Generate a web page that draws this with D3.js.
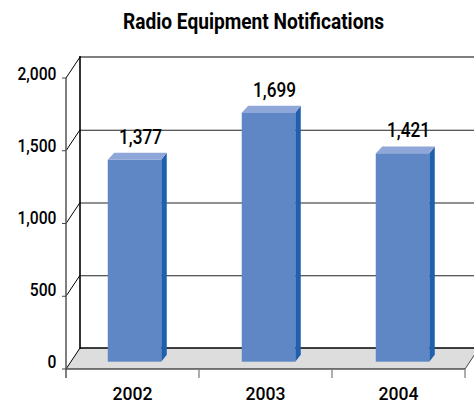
<!DOCTYPE html>
<html><head><meta charset="utf-8">
<script src="https://cdn.jsdelivr.net/npm/d3@7"></script>
<style>html,body{margin:0;padding:0;background:#fff}svg{display:block}text{font-family:Roboto,sans-serif;fill:#000}</style>
</head><body><svg id="c" width="474" height="404"></svg>
<script>
const title = "Radio Equipment Notifications";
const categories = ["2002","2003","2004"];
const values = [1377,1699,1421];
const labels = ["1,377","1,699","1,421"];
const yTicks = [0,500,1000,1500,2000];
const yTickLabels = ["0","500","1,000","1,500","2,000"];

const svg = d3.select("#c");
const DX = 14, DY = -21;
const x = d3.scaleBand().domain(categories).range([66,465]);
const barX = d3.scaleBand().domain(categories).range([67.5,469.5]);
const y = d3.scaleLinear().domain([0,2000]).range([369,78]);
const barY = d3.scaleLinear().domain([0,2000]).range([361.7,68.5]);
const labelY = d3.scaleLinear().domain([0,2000]).range([367.7,80]);
const right = x.range()[1];

// floor
svg.append("path").attr("d",`M${66},${y(0)}L${66+DX},${y(0)+DY}L${right+DX},${y(0)+DY}L${right},${y(0)}Z`).attr("fill","#dddddd");
// back gridlines
svg.selectAll("line.g").data(yTicks.slice(1,-1)).join("line")
 .attr("x1",66+DX).attr("x2",right+DX).attr("y1",d=>y(d)+DY+.5).attr("y2",d=>y(d)+DY+.5)
 .attr("stroke","#222").attr("stroke-width",1);
// side-wall diagonals
svg.selectAll("line.d").data(yTicks).join("line")
 .attr("x1",66).attr("y1",d=>y(d)).attr("x2",66+DX).attr("y2",d=>y(d)+DY)
 .attr("stroke","#000").attr("stroke-width",1);
// wall edges
svg.append("line").attr("x1",66+DX).attr("x2",66+DX).attr("y1",y(2000)+DY-1).attr("y2",y(0)+DY+1).attr("stroke","#000").attr("stroke-width",1.6);
svg.append("line").attr("x1",66+DX).attr("x2",right+DX).attr("y1",y(2000)+DY).attr("y2",y(2000)+DY).attr("stroke","#000").attr("stroke-width",1.2);
svg.append("line").attr("x1",66+DX).attr("x2",right+DX).attr("y1",y(0)+DY).attr("y2",y(0)+DY).attr("stroke","#000").attr("stroke-width",1.6);
svg.append("line").attr("x1",right).attr("x2",right+DX).attr("y1",y(0)).attr("y2",y(0)+DY).attr("stroke","#444").attr("stroke-width",1);
// front x axis
svg.append("line").attr("x1",66).attr("x2",right).attr("y1",y(0)).attr("y2",y(0)).attr("stroke","#000").attr("stroke-width",1.2);
// front y axis
svg.append("line").attr("x1",66).attr("x2",66).attr("y1",y(2000)).attr("y2",y(0)+9).attr("stroke","#555").attr("stroke-width",1.5);
svg.selectAll("line.yt").data(yTicks).join("line").attr("x1",62).attr("x2",66).attr("y1",d=>y(d)).attr("y2",d=>y(d)).attr("stroke","#444").attr("stroke-width",1);
const xt = categories.map(c=>x(c)).concat([right]);
svg.selectAll("line.xt").data(xt.slice(1)).join("line").attr("x1",d=>d).attr("x2",d=>d).attr("y1",y(0)).attr("y2",y(0)+9).attr("stroke","#777").attr("stroke-width",1.2);

// bars
const bw = 53.5, bdx = 5.5, bdy = -7;
const bx = c => barX(c)+barX.bandwidth()/2-bw/2;
const g = svg.selectAll("g.b").data(categories.map((c,i)=>({c,v:values[i],l:labels[i]}))).join("g");
g.append("path").attr("fill","#1f5fad").attr("d",d=>{const l=bx(d.c)+bw,t=barY(d.v),b=barY(0);return `M${l},${t}L${l+bdx},${t+bdy}L${l+bdx},${b+bdy}L${l},${b}Z`;});
g.append("path").attr("fill","#8ea6d8").attr("d",d=>{const l=bx(d.c),t=barY(d.v);return `M${l},${t}L${l+bdx+1},${t+bdy}L${l+bw+bdx},${t+bdy}L${l+bw},${t}Z`;});
g.append("rect").attr("fill","#5f87c6").attr("x",d=>bx(d.c)).attr("width",bw).attr("y",d=>barY(d.v)).attr("height",d=>barY(0)-barY(d.v));
g.append("text").attr("x",d=>bx(d.c)+bw/2+6).attr("y",d=>barY(d.v)-16).attr("text-anchor","middle").attr("font-size",19.5).attr("font-weight",500).attr("textLength",43).attr("lengthAdjust","spacingAndGlyphs").text(d=>d.l);

// labels
svg.selectAll("text.yl").data(yTicks).join("text").attr("class","yl").attr("x",56.5).attr("y",d=>labelY(d)).attr("text-anchor","end").attr("font-size",18).attr("font-weight",500)
  .text((d,i)=>yTickLabels[i]).each(function(){this.setAttribute("textLength",this.getComputedTextLength()*0.87);this.setAttribute("lengthAdjust","spacingAndGlyphs");});
svg.selectAll("text.xl").data(categories).join("text").attr("class","xl").attr("x",d=>x(d)+x.bandwidth()/2).attr("y",400).attr("text-anchor","middle").attr("font-size",19).attr("font-weight",500).attr("textLength",40).attr("lengthAdjust","spacingAndGlyphs").text(d=>d);
svg.append("text").attr("x",253.5).attr("y",29).attr("text-anchor","middle").attr("font-size",22).attr("font-weight",700).attr("textLength",261).attr("lengthAdjust","spacingAndGlyphs").text(title);
</script></body></html>
